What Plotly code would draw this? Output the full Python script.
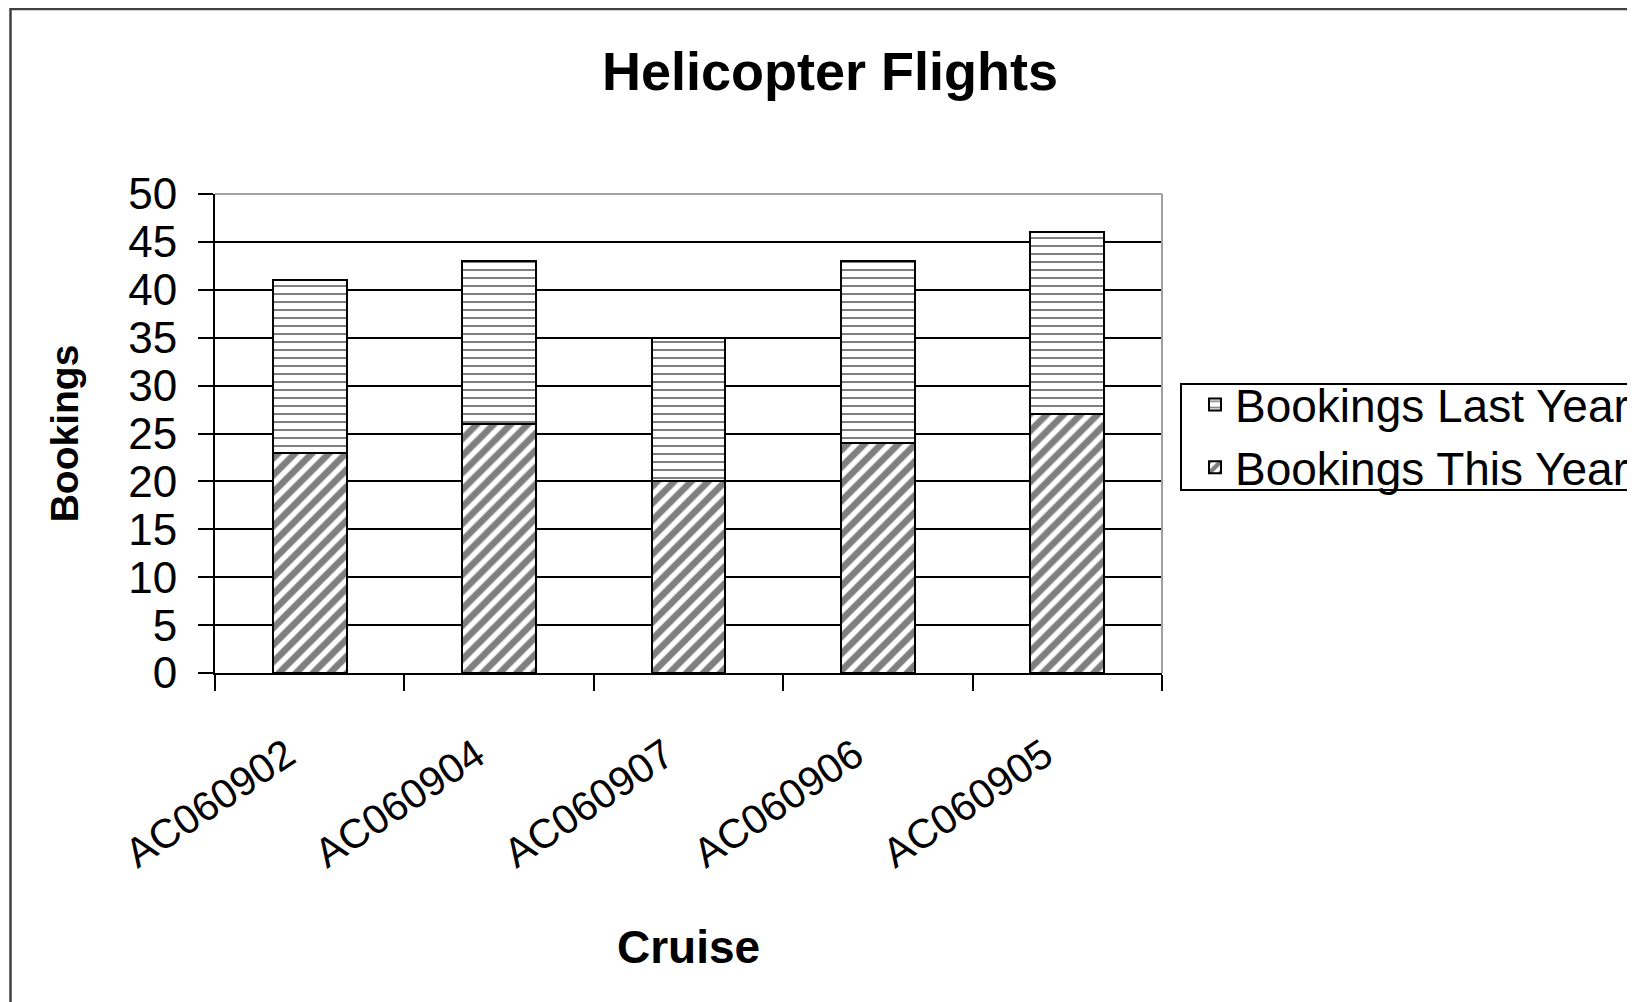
import plotly.graph_objects as go

# ---- data ----
cruises = ["AC060902", "AC060904", "AC060907", "AC060906", "AC060905"]
bookings_this_year = [23, 26, 20, 24, 27]
bookings_last_year = [18, 17, 15, 19, 19]
y_ticks = [0, 5, 10, 15, 20, 25, 30, 35, 40, 45, 50]

# ---- layout constants (pixels, figure coordinates) ----
OFF = 8  # page body margin offset
W, H = 1635, 1002
L, R, T, B = 215 - OFF, 1162 - OFF, 194 - OFF, 673 - OFF
FONT = "Liberation Sans, Arial, sans-serif"


def px_x(p):
    return (p - L) / (R - L)


def px_y(p):
    return (B - p) / (B - T)


fig = go.Figure()
fig.add_trace(go.Bar(
    name="Bookings This Year", x=cruises, y=bookings_this_year,
    marker=dict(color="white", line=dict(color="black", width=2),
                pattern=dict(shape="/", fgcolor="black", bgcolor="white",
                             size=12, solidity=0.55)),
))
fig.add_trace(go.Bar(
    name="Bookings Last Year", x=cruises, y=bookings_last_year,
    marker=dict(color="white", line=dict(color="black", width=2),
                pattern=dict(shape="-", fgcolor="black", bgcolor="white",
                             size=8, solidity=0.25)),
))

fig.update_layout(
    width=W, height=H,
    barmode="stack", bargap=0.61,
    paper_bgcolor="white", plot_bgcolor="white",
    margin=dict(l=L, r=W - R, t=T, b=H - B, autoexpand=False),
    font=dict(family=FONT, color="black"),
    title=dict(text="Helicopter Flights", x=(830 - OFF) / W, xanchor="center",
               y=1 - (71 - OFF) / H, yanchor="middle", yref="container",
               font=dict(size=54, weight="bold", family=FONT)),
    showlegend=True,
    legend=dict(x=px_x(1187), xanchor="left", y=px_y(360), yanchor="top",
                traceorder="reversed", font=dict(size=46, family=FONT),
                bgcolor="rgba(0,0,0,0)", borderwidth=0),
    xaxis=dict(type="category", tickson="boundaries", ticks="outside",
               ticklen=16, tickwidth=2, tickcolor="black",
               showline=True, linecolor="black", linewidth=2,
               showgrid=False, tickangle=-34,
               ticklabelstandoff=40, ticklabelshift=-23,
               tickfont=dict(size=41, family=FONT),
               title=dict(text="Cruise", font=dict(size=46, weight="bold"),
                          standoff=55)),
    yaxis=dict(range=[0, 50], tickvals=y_ticks, ticks="outside",
               ticklen=15, tickwidth=2, tickcolor="black",
               showline=True, linecolor="black", linewidth=2,
               showgrid=True, gridcolor="black", gridwidth=1.5,
               zeroline=False, ticklabelstandoff=12,
               tickfont=dict(size=44, family=FONT),
               title=dict(text="Bookings", font=dict(size=39, weight="bold"),
                          standoff=38)),
    shapes=[
        # plot area top and right border (grey)
        dict(type="line", xref="paper", yref="paper", x0=0, x1=1, y0=1, y1=1,
             line=dict(color="#a0a0a0", width=2), layer="above"),
        dict(type="line", xref="paper", yref="paper", x0=1, x1=1, y0=0, y1=1,
             line=dict(color="#a0a0a0", width=2), layer="above"),
        # chart outer border (runs off right and bottom)
        dict(type="rect", xref="paper", yref="paper",
             x0=px_x(2.5), x1=px_x(1700), y0=px_y(1030), y1=px_y(1),
             line=dict(color="#404040", width=2.5), layer="above"),
        # legend box (runs off right edge)
        dict(type="rect", xref="paper", yref="paper",
             x0=px_x(1181 - OFF), x1=px_x(1700), y0=px_y(490 - OFF), y1=px_y(384 - OFF),
             line=dict(color="black", width=2), layer="above"),
    ],
)

fig.write_html("out.html")
